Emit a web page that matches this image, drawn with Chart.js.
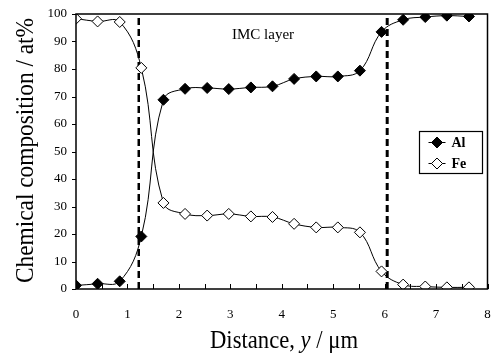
<!DOCTYPE html>
<html>
<head>
<meta charset="utf-8">
<script src="https://cdn.jsdelivr.net/npm/chart.js@4.4.1/dist/chart.umd.min.js"></script>
<style>
  html, body { margin: 0; padding: 0; background: #fff; overflow: hidden; }
  #wrap { width: 491px; height: 354px; position: relative; overflow: hidden; }
  #c { display: block; }
</style>
</head>
<body>
<div id="wrap"><canvas id="c" width="494" height="354"></canvas></div>
<script>
// ---- data ----
const distance = [0, 0.42, 0.85, 1.27, 1.70, 2.12, 2.55, 2.97, 3.40, 3.82, 4.24, 4.67, 5.09, 5.52, 5.94, 6.36, 6.79, 7.21, 7.64];
const alValues = [1.3, 1.9, 2.8, 19.1, 68.8, 72.8, 73.1, 72.7, 73.3, 73.7, 76.4, 77.3, 77.3, 79.4, 93.5, 97.9, 98.9, 99.4, 99.1];
const feValues = [98.3, 97.3, 97.1, 80.4, 31.3, 27.3, 26.7, 27.3, 26.4, 26.2, 23.7, 22.4, 22.4, 20.6, 6.4, 1.6, 0.9, 0.6, 0.6];
const boundaries = [1.22, 6.05];
const xTickLabels = ['0', '1', '2', '3', '4', '5', '6', '7', '8'];
const yTickLabels = ['0', '10', '20', '30', '40', '50', '60', '70', '80', '90', '100'];
const seriesNames = ['Al', 'Fe'];
const annotationText = 'IMC layer';
const xTitleParts = [['Distance, ', 'normal'], ['y', 'italic'], [' / μm', 'normal']];
const yTitle = 'Chemical composition / at%';

const SERIF = '"Liberation Serif", "Times New Roman", serif';

function pts(xs, ys) { return xs.map((x, i) => ({ x: x, y: ys[i] })); }

const datasets = [
  {
    label: seriesNames[0], data: pts(distance, alValues),
    borderColor: '#000', backgroundColor: '#000', borderWidth: 1,
    pointStyle: 'rectRot', pointRadius: 5.5, pointBorderWidth: 1,
    pointBackgroundColor: '#000', pointBorderColor: '#000',
    tension: 0.4, showLine: true, order: 1
  },
  {
    label: seriesNames[1], data: pts(distance, feValues),
    borderColor: '#000', backgroundColor: '#fff', borderWidth: 1,
    pointStyle: 'rectRot', pointRadius: 5.5, pointBorderWidth: 1,
    pointBackgroundColor: '#fff', pointBorderColor: '#000',
    tension: 0.4, showLine: true, order: 0
  }
];
boundaries.forEach((b, i) => {
  datasets.push({
    label: 'boundary' + i, data: [{ x: b, y: 0 }, { x: b, y: 100 }],
    borderColor: '#000', borderWidth: i === 0 ? 2.5 : 3, borderDash: [7, 4],
    pointRadius: 0, showLine: true, tension: 0, order: 2
  });
});

const decor = {
  id: 'decor',
  afterDatasetsDraw(chart) {
    const ctx = chart.ctx, a = chart.chartArea;
    const xs = chart.scales.x, ys = chart.scales.y;
    ctx.save();
    // frame
    ctx.strokeStyle = '#000';
    ctx.lineWidth = 1.5;
    ctx.strokeRect(a.left, a.top, a.right - a.left, a.bottom - a.top);
    // y ticks (outward)
    ctx.lineWidth = 1;
    ys.ticks.forEach(t => {
      const p = Math.round(ys.getPixelForValue(t.value)) + 0.5;
      ctx.beginPath(); ctx.moveTo(a.left - 4, p); ctx.lineTo(a.left, p); ctx.stroke();
    });
    // x ticks (inward, every 0.5)
    xs.ticks.forEach(t => {
      const p = Math.round(xs.getPixelForValue(t.value)) + 0.5;
      ctx.beginPath(); ctx.moveTo(p, a.bottom); ctx.lineTo(p, a.bottom - 5); ctx.stroke();
    });
    // annotation
    ctx.fillStyle = '#000';
    ctx.font = '15px ' + SERIF;
    ctx.textAlign = 'center'; ctx.textBaseline = 'alphabetic';
    ctx.fillText(annotationText, 263, 39);

    // legend box
    const lx = 419.5, ly = 131.5, lw = 63, lh = 42;
    ctx.fillStyle = '#fff';
    ctx.fillRect(lx, ly, lw, lh);
    ctx.strokeStyle = '#000'; ctx.lineWidth = 1.2;
    ctx.strokeRect(lx, ly, lw, lh);
    chart.data.datasets.slice(0, 2).forEach((ds, i) => {
      const cy = ly + 11 + i * 21;
      ctx.strokeStyle = '#000'; ctx.lineWidth = 1;
      ctx.beginPath(); ctx.moveTo(lx + 9, cy); ctx.lineTo(lx + 26, cy); ctx.stroke();
      ctx.fillStyle = ds.pointBackgroundColor;
      ctx.beginPath();
      const cx = lx + 17.5, r = 5.5;
      ctx.moveTo(cx - r, cy); ctx.lineTo(cx, cy - r); ctx.lineTo(cx + r, cy); ctx.lineTo(cx, cy + r); ctx.closePath();
      ctx.fill(); ctx.stroke();
      ctx.fillStyle = '#000';
      ctx.font = 'bold 14px ' + SERIF;
      ctx.textAlign = 'left'; ctx.textBaseline = 'middle';
      ctx.fillText(ds.label, lx + 32, cy + 1);
    });

    // x title (fitted)
    const fs = 25;
    let total = 0;
    xTitleParts.forEach(p => { ctx.font = p[1] + ' ' + fs + 'px ' + SERIF; total += ctx.measureText(p[0]).width; });
    const targetW = 148, cxT = 284, base = 348;
    const sx = targetW / total;
    ctx.save();
    ctx.translate(cxT - targetW / 2, base);
    ctx.scale(sx, 1);
    ctx.textAlign = 'left'; ctx.textBaseline = 'alphabetic';
    let off = 0;
    xTitleParts.forEach(p => {
      ctx.font = p[1] + ' ' + fs + 'px ' + SERIF;
      ctx.fillText(p[0], off, 0);
      off += ctx.measureText(p[0]).width;
    });
    ctx.restore();

    // y title (rotated, fitted)
    ctx.save();
    ctx.font = fs + 'px ' + SERIF;
    const yw = ctx.measureText(yTitle).width;
    const targetH = 265;
    ctx.translate(33, 150.5);
    ctx.rotate(-Math.PI / 2);
    ctx.scale(targetH / yw, 1);
    ctx.textAlign = 'center'; ctx.textBaseline = 'alphabetic';
    ctx.fillText(yTitle, 0, 0);
    ctx.restore();

    ctx.restore();
  }
};

new Chart(document.getElementById('c'), {
  type: 'scatter',
  data: { datasets: datasets },
  options: {
    responsive: false,
    animation: false,
    devicePixelRatio: 1,
    layout: { padding: { top: 14, right: 0, left: 0, bottom: 0 } },
    plugins: { legend: { display: false }, tooltip: { enabled: false } },
    elements: { line: { capBezierPoints: true } },
    scales: {
      x: {
        type: 'linear', min: 0, max: 8,
        grid: { display: false, drawTicks: false },
        border: { display: false },
        ticks: {
          stepSize: 0.5, padding: 18, color: '#000', maxRotation: 0, autoSkip: false,
          font: { family: SERIF, size: 13 },
          callback: (v) => Number.isInteger(v) ? xTickLabels[v] : ''
        },
        afterFit: (s) => { s.height = 65; s.paddingLeft = 0; s.paddingRight = 0; }
      },
      y: {
        type: 'linear', min: 0, max: 100,
        grid: { display: false, drawTicks: false },
        border: { display: false },
        ticks: {
          stepSize: 10, padding: 9, color: '#000',
          font: { family: SERIF, size: 13 },
          callback: (v) => yTickLabels[Math.round(v / 10)]
        },
        afterFit: (s) => { s.width = 76; s.paddingTop = 0; s.paddingBottom = 0; }
      }
    }
  },
  plugins: [decor]
});
</script>
</body>
</html>
